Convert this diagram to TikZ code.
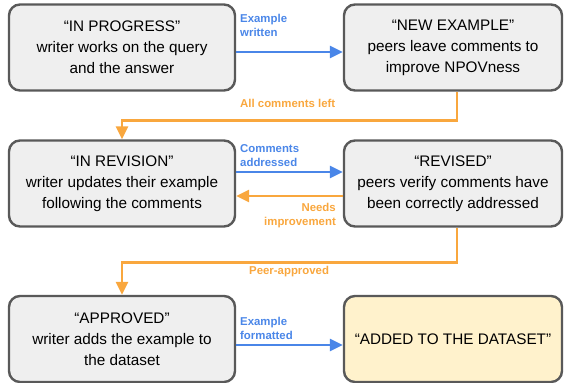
\documentclass[tikz,border=0pt]{standalone}
\usepackage{fontspec}
\setmainfont{Liberation Sans}
\usetikzlibrary{arrows.meta}

\definecolor{boxgray}{HTML}{EFEFEF}
\definecolor{boxyellow}{HTML}{FFF2CC}
\definecolor{edgegray}{HTML}{595959}
\definecolor{flowblue}{HTML}{4A86E8}
\definecolor{floworange}{HTML}{F9A73E}

\tikzset{
    state/.style={draw=edgegray, line width=2.4pt, rounded corners=11pt, fill=boxgray,
        minimum height=86pt, align=center, inner sep=2pt,
        font=\fontsize{15.3}{21}\selectfont},
    wide/.style={minimum width=226pt},
    narrow/.style={minimum width=218pt},
    fwd/.style={draw=flowblue, line width=2.6pt, -{Triangle[length=13pt,width=12pt]}},
    back/.style={draw=floworange, line width=2.6pt, -{Triangle[length=13pt,width=12pt]}},
    lbl/.style={font=\fontsize{11.4}{14.5}\selectfont\bfseries, align=left, inner sep=0pt}
}

\begin{document}
\begin{tikzpicture}[x=1pt, y=-1pt]
        % 1. Frame
        \useasboundingbox (0,0) rectangle (566,383);

        % 2. States
        \node[state, wide]   (prog)  at (122, 47.5)  {``IN PROGRESS''\\writer works on the query\\and the answer};
        \node[state, narrow] (new)   at (453, 47.5)  {``NEW EXAMPLE''\\peers leave comments to\\improve NPOVness};
        \node[state, wide]   (rev)   at (122, 183.5) {``IN REVISION''\\writer updates their example\\following the comments};
        \node[state, narrow] (done)  at (453, 183.5) {``REVISED''\\peers verify comments have\\been correctly addressed};
        \node[state, wide]   (appr)  at (122, 339)   {``APPROVED''\\writer adds the example to\\the dataset};
        \node[state, narrow, fill=boxyellow] (added) at (453, 339) {``ADDED TO THE DATASET''};

        % 3. Forward steps (blue)
        \draw[fwd] ([yshift=-4.5pt]prog.east) -- ([yshift=-4.5pt]new.west);
        \draw[fwd] ([yshift=11.5pt]rev.east) -- ([yshift=11.5pt]done.west);
        \draw[fwd] ([yshift=-6pt]appr.east) -- ([yshift=-6pt]added.west);

        % 4. Loops back (orange)
        \draw[back] ([xshift=4pt]new.south) -- ++(0,29) -| (rev.north);
        \draw[back] ([yshift=-12.5pt]done.west) -- ([yshift=-12.5pt]rev.west -| rev.east);
        \draw[back] ([xshift=4pt]done.south) -- ++(0,35) -| (appr.north);

        % 5. Labels
        \node[lbl, flowblue, anchor=north west] (lwritten) at (240, 14)  {Example\\written};
        \node[lbl, floworange, anchor=west]     (lleft)    at (240, 103) {All comments left};
        \node[lbl, flowblue, anchor=north west] (laddr)    at (240, 144) {Comments\\addressed};
        \node[lbl, floworange, anchor=north east, align=right] (limpr) at (336, 203) {Needs\\improvement};
        \node[lbl, floworange, anchor=west]     (lpeer)    at (249, 272) {Peer-approved};
        \node[lbl, flowblue, anchor=north west] (lform)    at (240, 317) {Example\\formatted};
    \end{tikzpicture}
\end{document}
